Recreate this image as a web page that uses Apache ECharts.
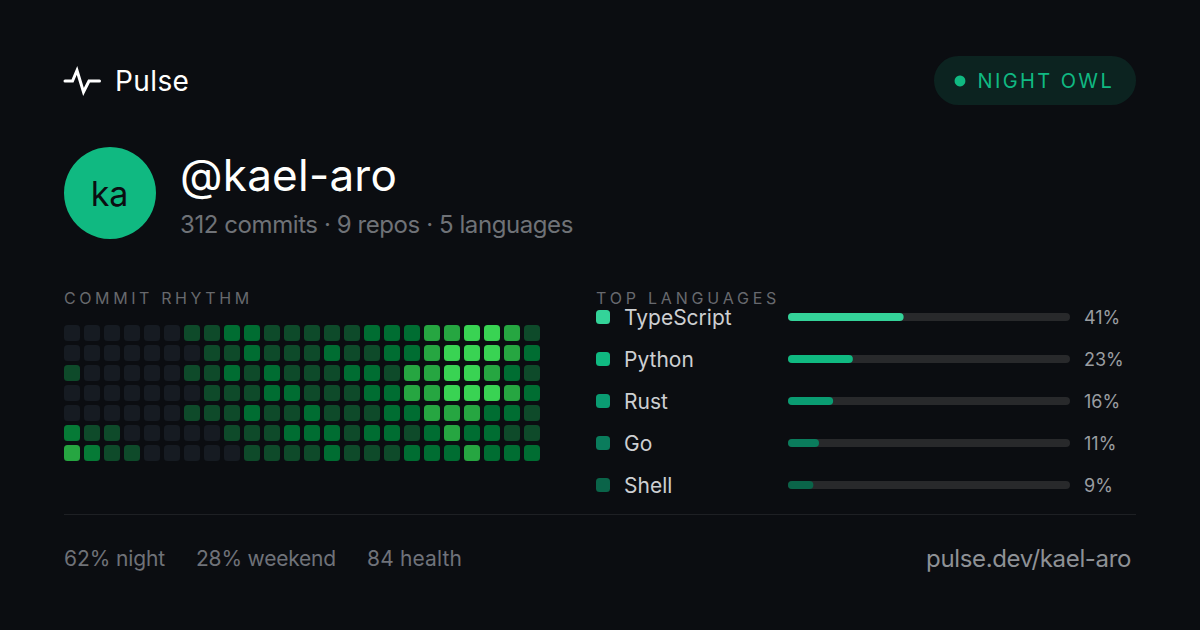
<!DOCTYPE html>
<html><head><meta charset="utf-8">
<style>
html,body{margin:0;padding:0;background:#0b0d11}
#c{width:1200px;height:630px}
</style>
<script src="https://cdn.jsdelivr.net/npm/echarts@6/dist/echarts.min.js"></script>
</head><body><div id="c"></div>
<script>
const weeks = ['1','2','3','4','5','6','7','8','9','10','11','12','13','14','15','16','17','18','19','20','21','22','23','24'];
const days = ['Mon','Tue','Wed','Thu','Fri','Sat','Sun'];
const rhythm = [
 [0,0,0,0,0,0,1,1,2,2,1,1, 1,1,1,2,2,2,4,4,5,5,4,1],
 [0,0,0,0,0,0,0,1,1,2,1,1, 1,2,1,1,2,2,4,5,5,5,4,2],
 [1,0,0,0,0,0,1,1,2,1,2,1, 1,1,2,2,1,4,4,5,5,4,2,1],
 [0,0,0,0,0,0,0,1,1,1,2,2, 1,1,1,2,2,4,4,5,5,5,4,2],
 [0,0,0,0,0,0,1,1,1,2,1,1, 2,1,1,1,2,2,4,4,4,2,2,1],
 [3,1,1,0,0,0,0,0,1,1,1,2, 2,2,1,2,2,1,2,4,2,2,1,1],
 [4,3,1,1,0,0,0,0,0,1,1,1, 1,2,1,1,1,2,2,2,4,2,2,2]
];
const levelColors = ['#161b22','#0e4a2a','#006d32','#067a36','#26a641','#39d353'];
const languages = ['TypeScript','Python','Rust','Go','Shell'];
const shares = [41,23,16,11,9];
const langColors = ['#34d399','#10b981','#0a9c72','#0a7c5c','#0a6449'];

const BG='#0b0d11';
const cells=[];
rhythm.forEach((row,r)=>row.forEach((v,c)=>cells.push([c,r,v])));
const font='Inter, sans-serif';
const T=(x,y,text,size,fill,extra)=>({type:'text',x,y,style:Object.assign({text,fontSize:size,fontFamily:font,fill,verticalAlign:'middle'},extra||{})});

const chart=echarts.init(document.getElementById('c'),null,{renderer:'svg',width:1200,height:630});
chart.setOption({
 backgroundColor:BG,animation:false,
 grid:[
  {left:62,top:323,width:480,height:140},
  {left:788,top:296,width:282,height:210},
  {left:596,top:296,width:14,height:210}
 ],
 xAxis:[
  {gridIndex:0,type:'category',data:weeks,show:false},
  {gridIndex:1,type:'value',min:0,max:100,show:false},
  {gridIndex:2,type:'value',min:0,max:1,show:false}
 ],
 yAxis:[
  {gridIndex:0,type:'category',data:days,inverse:true,show:false},
  {gridIndex:1,type:'category',data:languages,inverse:true,
   axisLine:{show:false},axisTick:{show:false},
   axisLabel:{align:'left',margin:164,fontSize:21,fontFamily:font,color:'#cdcfd2',padding:[0,0,2,0]}},
  {gridIndex:1,type:'category',position:'right',data:shares.map(v=>v+'%'),inverse:true,
   axisLine:{show:false},axisTick:{show:false},
   axisLabel:{align:'left',margin:14,fontSize:18,fontFamily:font,color:'#9a9da1'}},
  {gridIndex:2,type:'category',data:languages,inverse:true,show:false}
 ],
 series:[
  {type:'custom',xAxisIndex:0,yAxisIndex:0,data:cells,encode:{x:0,y:1},
   renderItem(params,api){
    const p=api.coord([api.value(0),api.value(1)]);
    return {type:'rect',shape:{x:p[0]-8,y:p[1]-8,width:16,height:16,r:3.5},
     style:{fill:levelColors[api.value(2)]}};
   }},
  {type:'bar',xAxisIndex:1,yAxisIndex:1,data:shares.map((v,i)=>({value:v,itemStyle:{color:langColors[i]}})),
   barWidth:8,showBackground:true,backgroundStyle:{color:'#28292b',opacity:1,borderRadius:4},
   itemStyle:{borderRadius:4}},
  {type:'scatter',xAxisIndex:2,yAxisIndex:3,symbol:'roundRect',symbolSize:14,
   data:languages.map((n,i)=>({value:[0.5,n],itemStyle:{color:langColors[i],opacity:1}}))}
 ],
 graphic:{elements:[
  {type:'polyline',shape:{points:[[65,81],[72.5,81],[77,70.5],[83.5,92],[89,81],[99.5,81]]},style:{stroke:'#ffffff',lineWidth:3,fill:'none',lineJoin:'miter',lineCap:'round'}},
  T(115,81,'Pulse',28,'#fffffe'),
  {type:'rect',shape:{x:934,y:56,width:202,height:49,r:24.5},style:{fill:'#0c2320'}},
  {type:'circle',shape:{cx:960,cy:81,r:5.4},style:{fill:'#10b981'}},
  T(977.5,81,'NIGHT OWL',20,'#10b982'),
  {type:'circle',shape:{cx:110,cy:193,r:46},style:{fill:'#10b981'}},
  T(109.5,193,'ka',34,'#0b0d11',{align:'center'}),
  T(180,175,'@kael-aro',44,'#fffffd'),
  T(180,224.5,'312 commits · 9 repos · 5 languages',24,'#6f7277'),
  T(64,298,'COMMIT RHYTHM',16,'#67696d'),
  T(596,298,'TOP LANGUAGES',16,'#67696e'),
  {type:'rect',shape:{x:64,y:514,width:1072,height:1},style:{fill:'#1e2024'}},
  T(64,558,'62% night',21,'#6f7278'),
  T(196,558,'28% weekend',21,'#6f7279'),
  T(367,558,'84 health',21,'#6f727a'),
  T(1131,558,'pulse.dev/kael-aro',24,'#8e9196',{align:'right'})
 ]}
});
const spacing={'#fffffe':.4,'#10b982':2.4,'#fffffd':.25,'#6f7277':-.42,'#67696d':3.6,'#67696e':3.8,'#6f7278':-.1,'#6f7279':-.2,'#6f727a':.15,'#8e9196':-.35};
const st=document.createElement('style');
st.textContent=Object.entries(spacing).map(([c,s])=>`text[fill="${c}"]{letter-spacing:${s}px}`).join('\n');
document.head.appendChild(st);
</script></body></html>
